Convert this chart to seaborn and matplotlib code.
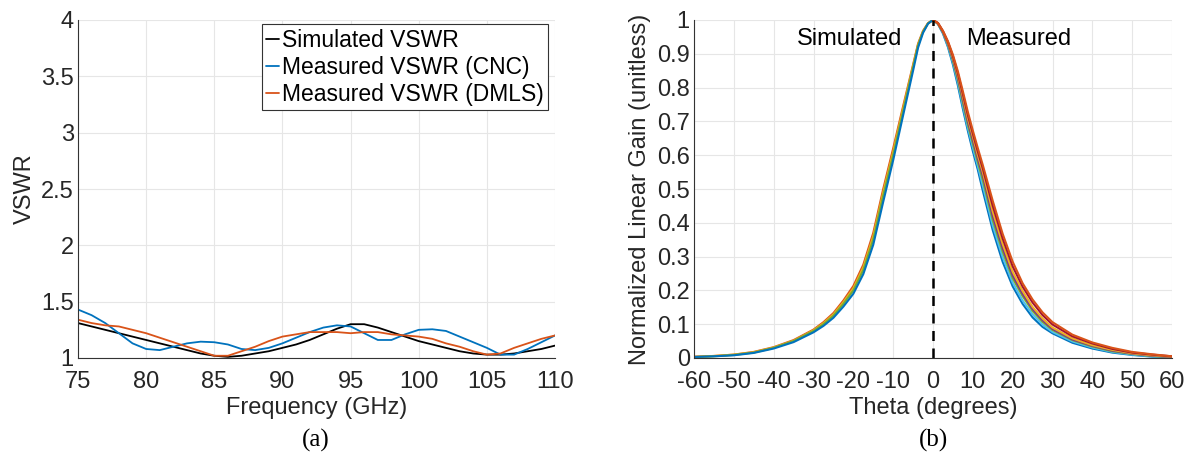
import numpy as np
import pandas as pd
import seaborn as sns
import matplotlib.pyplot as plt

# ---- (a) VSWR data, every 1 GHz ----
freq_ghz = list(range(75, 111))
vswr_sim = [1.31, 1.28, 1.25, 1.22, 1.19, 1.16, 1.13, 1.10, 1.07, 1.04, 1.02, 1.01,
            1.02, 1.04, 1.06, 1.09, 1.12, 1.16, 1.21, 1.26, 1.30, 1.30, 1.27, 1.23,
            1.19, 1.15, 1.12, 1.09, 1.06, 1.04, 1.03, 1.03, 1.04, 1.06, 1.08, 1.11]
vswr_cnc = [1.43, 1.38, 1.31, 1.22, 1.13, 1.08, 1.07, 1.10, 1.13, 1.145, 1.14, 1.12,
            1.08, 1.07, 1.09, 1.13, 1.18, 1.23, 1.27, 1.29, 1.28, 1.22, 1.16, 1.16,
            1.21, 1.25, 1.255, 1.24, 1.19, 1.14, 1.09, 1.03, 1.03, 1.08, 1.14, 1.20]
vswr_dmls = [1.34, 1.31, 1.29, 1.28, 1.25, 1.22, 1.18, 1.14, 1.10, 1.06, 1.02, 1.02,
             1.06, 1.10, 1.15, 1.19, 1.21, 1.23, 1.23, 1.23, 1.22, 1.23, 1.23, 1.21,
             1.20, 1.19, 1.17, 1.13, 1.10, 1.06, 1.03, 1.04, 1.09, 1.13, 1.17, 1.20]
vswr_labels = ['Simulated VSWR', 'Measured VSWR (CNC)', 'Measured VSWR (DMLS)']

# ---- (b) normalized gain cuts ----
theta_sim = [-60, -55, -50, -45, -40, -35, -30, -27.5, -25, -22.5, -20, -17.5, -15,
             -12.5, -10, -7.5, -5, -3.75, -2.5, -1.25, 0]
sim_cuts = {
    'sim_b': [0.004, 0.006, 0.010, 0.018, 0.032, 0.053, 0.084, 0.106, 0.133, 0.170, 0.213,
              0.276, 0.370, 0.500, 0.620, 0.745, 0.868, 0.930, 0.968, 0.991, 1.0],
    'sim_d': [0.003, 0.006, 0.010, 0.017, 0.031, 0.051, 0.082, 0.103, 0.129, 0.165, 0.206,
              0.268, 0.360, 0.490, 0.610, 0.738, 0.864, 0.927, 0.966, 0.990, 1.0],
    'sim_a': [0.003, 0.005, 0.009, 0.016, 0.030, 0.050, 0.080, 0.100, 0.125, 0.160, 0.200,
              0.260, 0.350, 0.480, 0.600, 0.730, 0.860, 0.925, 0.965, 0.990, 1.0],
    'sim_c': [0.003, 0.005, 0.008, 0.015, 0.028, 0.047, 0.076, 0.095, 0.119, 0.152, 0.190,
              0.248, 0.335, 0.462, 0.585, 0.718, 0.850, 0.918, 0.962, 0.989, 1.0],
}
sim_colors = ['#D95319', '#EDB120', '#77AC30', '#0072BD']

theta_meas = [0, 1.25, 2.5, 3.75, 5, 6.25, 7.5, 8.75, 10, 11.25, 12.5, 15, 17.5, 20,
              22.5, 25, 27.5, 30, 35, 40, 45, 50, 55, 60]
meas_cuts = {
    'm1': [1.0, 0.988, 0.960, 0.920, 0.868, 0.806, 0.737, 0.672, 0.612, 0.557, 0.495, 0.378,
           0.284, 0.212, 0.160, 0.120, 0.092, 0.073, 0.045, 0.028, 0.016, 0.009, 0.004, 0.002],
    'm2': [1.0, 0.989, 0.962, 0.924, 0.874, 0.814, 0.746, 0.681, 0.623, 0.568, 0.510, 0.392,
           0.298, 0.223, 0.170, 0.129, 0.099, 0.077, 0.049, 0.031, 0.018, 0.010, 0.005, 0.002],
    'm3': [1.0, 0.989, 0.964, 0.928, 0.880, 0.823, 0.756, 0.691, 0.635, 0.580, 0.527, 0.408,
           0.314, 0.236, 0.183, 0.139, 0.107, 0.083, 0.053, 0.034, 0.020, 0.012, 0.006, 0.003],
    'm4': [1.0, 0.990, 0.965, 0.930, 0.885, 0.830, 0.765, 0.700, 0.645, 0.590, 0.540, 0.420,
           0.325, 0.245, 0.190, 0.145, 0.112, 0.086, 0.055, 0.036, 0.022, 0.013, 0.007, 0.003],
    'm5': [1.0, 0.990, 0.966, 0.932, 0.889, 0.836, 0.773, 0.709, 0.655, 0.600, 0.550, 0.433,
           0.337, 0.255, 0.198, 0.151, 0.117, 0.090, 0.058, 0.038, 0.024, 0.014, 0.008, 0.004],
    'm6': [1.0, 0.991, 0.967, 0.935, 0.893, 0.842, 0.781, 0.719, 0.664, 0.611, 0.561, 0.450,
           0.353, 0.271, 0.211, 0.164, 0.127, 0.099, 0.064, 0.043, 0.027, 0.016, 0.010, 0.005],
    'm7': [1.0, 0.991, 0.968, 0.937, 0.897, 0.848, 0.789, 0.728, 0.673, 0.621, 0.571, 0.465,
           0.367, 0.285, 0.221, 0.173, 0.135, 0.106, 0.069, 0.046, 0.030, 0.018, 0.011, 0.005],
}
meas_colors = ['#0072BD', '#4DBEEE', '#77AC30', '#7E2F8E', '#EDB120', '#A2142F', '#D95319']

TXT = '#262626'
FS = 17


def style_axes(ax):
    ax.grid(True, color='#e6e6e6', linewidth=0.8)
    for side in ['top', 'right']:
        ax.spines[side].set_visible(False)
    for side in ['left', 'bottom']:
        ax.spines[side].set_color('#333333')
        ax.spines[side].set_linewidth(0.8)
    ax.tick_params(direction='in', length=4, width=0.8, colors='#333333',
                   labelcolor=TXT, labelsize=FS)
    ax.tick_params(axis='x', pad=9)
    ax.tick_params(axis='y', pad=3)


def plot_vswr(ax):
    df = pd.DataFrame({
        'Frequency': freq_ghz * 3,
        'VSWR': vswr_sim + vswr_cnc + vswr_dmls,
        'series': [vswr_labels[0]] * len(freq_ghz) + [vswr_labels[1]] * len(freq_ghz)
                  + [vswr_labels[2]] * len(freq_ghz),
    })
    sns.lineplot(data=df, x='Frequency', y='VSWR', hue='series', hue_order=vswr_labels,
                 palette=['black', '#0072BD', '#D95319'], estimator=None, linewidth=1.3, ax=ax)
    ax.set_xlim(75, 110)
    ax.set_ylim(1, 4)
    ax.set_xticks(range(75, 111, 5))
    ax.set_yticks(np.arange(1, 4.01, 0.5))
    ax.set_yticklabels(['1', '1.5', '2', '2.5', '3', '3.5', '4'])
    ax.set_xlabel('Frequency (GHz)', fontsize=FS, color=TXT, labelpad=3)
    ax.set_ylabel('VSWR', fontsize=FS, color=TXT, labelpad=4)
    style_axes(ax)
    leg = ax.legend(loc='upper right', bbox_to_anchor=(0.985, 0.988), fontsize=16.5,
                    handlelength=0.55, handletextpad=0.12, labelspacing=0.18,
                    borderpad=0.2, borderaxespad=0.0, fancybox=False, framealpha=1)
    leg.get_frame().set_edgecolor('#333333')
    leg.get_frame().set_linewidth(0.8)
    for t in leg.get_texts():
        t.set_color('black')


def plot_gain(ax):
    for (name, vals), c in zip(sim_cuts.items(), sim_colors):
        sns.lineplot(x=theta_sim, y=vals, color=c, linewidth=1.5, ax=ax)
    for (name, vals), c in zip(meas_cuts.items(), meas_colors):
        sns.lineplot(x=theta_meas, y=vals, color=c, linewidth=1.5, ax=ax)
    ax.axvline(0, color='black', linestyle=(0, (4, 3)), linewidth=1.8)
    ax.text(-21, 0.945, 'Simulated', ha='center', va='center', fontsize=FS, color='black')
    ax.text(21.5, 0.945, 'Measured', ha='center', va='center', fontsize=FS, color='black')
    ax.set_xlim(-60, 60)
    ax.set_ylim(0, 1)
    ax.set_xticks(range(-60, 61, 10))
    ax.set_yticks(np.round(np.arange(0, 1.01, 0.1), 1))
    ax.set_yticklabels(['0'] + ['%.1f' % v for v in np.arange(0.1, 0.95, 0.1)] + ['1'])
    ax.set_xlabel('Theta (degrees)', fontsize=FS, color=TXT, labelpad=3)
    ax.set_ylabel('Normalized Linear Gain (unitless)', fontsize=FS, color=TXT, labelpad=4)
    style_axes(ax)


if __name__ == '__main__':
    sns.set_theme(style='whitegrid')
    plt.rcParams['font.family'] = ['Liberation Sans', 'DejaVu Sans']
    plt.rcParams['axes.unicode_minus'] = False

    fig = plt.figure(figsize=(11.86, 4.62), dpi=100)
    ax1 = fig.add_axes([78 / 1186, 104 / 462, 477 / 1186, 338 / 462])
    ax2 = fig.add_axes([694 / 1186, 104 / 462, 478 / 1186, 338 / 462])
    plot_vswr(ax1)
    plot_gain(ax2)

    fig.text(316 / 1186, 1 - 440 / 462, '(a)', ha='center', va='center', fontsize=18,
             family=['Liberation Serif', 'DejaVu Serif'], color='black')
    fig.text(933 / 1186, 1 - 440 / 462, '(b)', ha='center', va='center', fontsize=18,
             family=['Liberation Serif', 'DejaVu Serif'], color='black')

    fig.savefig('out.png', dpi=100, facecolor='white')
